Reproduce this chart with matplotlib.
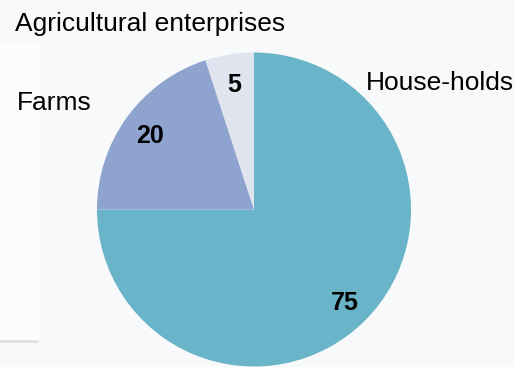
import matplotlib.pyplot as plt
from matplotlib.patches import Rectangle

plt.rcParams['font.family'] = ['Liberation Sans', 'DejaVu Sans']

# shares, %
categories = ['House-holds', 'Farms', 'Agricultural enterprises']
values = [75, 20, 5]
colors = ['#69b4c8', '#8fa3cf', '#dfe4ef']

W, H = 515, 367
bg = '#f8f9fb'

fig = plt.figure(figsize=(W / 100, H / 100), dpi=100, facecolor=bg)
ax = fig.add_axes([0, 0, 1, 1])
ax.set_facecolor(bg)

# faint card at the left (pixel coords, y from the top)
ax.add_patch(Rectangle((-5, H - 340), 42.5, 295, facecolor='#fbfcfd',
                       edgecolor='#ffffff', lw=1.2, zorder=0))
ax.plot([0, 38], [H - 340.5, H - 340.5], color='#dcdde0', lw=1.8, zorder=1,
        solid_capstyle='butt')

wedges, texts, autotexts = ax.pie(
    values, colors=colors, startangle=90, counterclock=False,
    center=(254, H - 209.5), radius=157, frame=True,
    autopct=lambda p: '{:.0f}'.format(p), pctdistance=0.82,
    wedgeprops=dict(linewidth=0),
    textprops=dict(fontsize=18, fontweight='bold', color='black'))
for w in wedges:
    w.set_zorder(2)
for t in autotexts:
    t.set_zorder(3)
    t.set_va('center_baseline')

ax.set_xlim(0, W)
ax.set_ylim(0, H)
ax.set_aspect('auto')
ax.axis('off')

# category labels
label_pos = [(366, 80), (17, 100), (15, 21)]
for name, (x, y) in zip(categories, label_pos):
    ax.text(x, H - y, name, fontsize=19, ha='left', va='center_baseline',
            color='black', zorder=4)

fig.savefig('out.png', dpi=100, facecolor=bg)
